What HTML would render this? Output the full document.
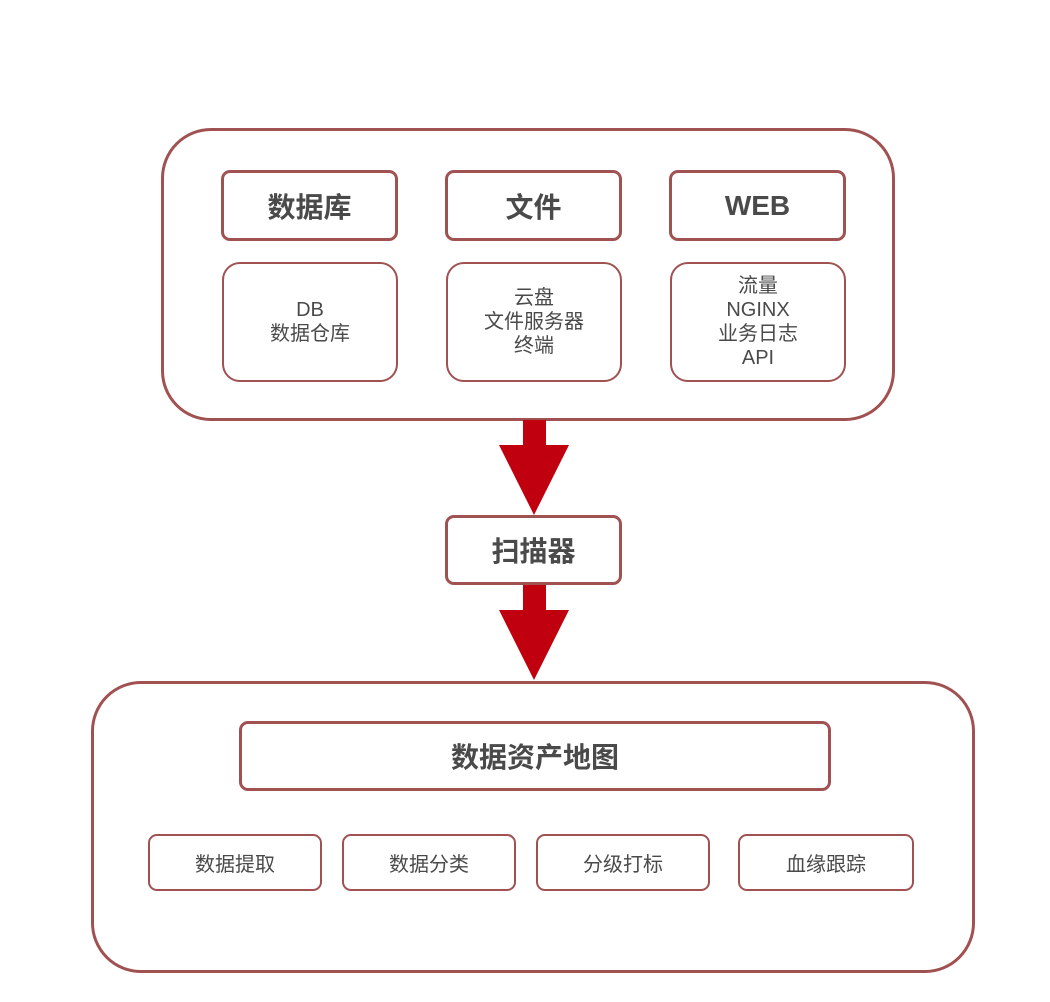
<!DOCTYPE html>
<html><head><meta charset="utf-8"><style>
body{margin:0;width:1050px;height:1002px;background:#fff;position:relative;font-family:"Liberation Sans","Noto Sans CJK SC",sans-serif;color:#4a4a4a;overflow:hidden}
.b{position:absolute;box-sizing:border-box;border:3px solid #a05252;display:flex;align-items:center;justify-content:center;text-align:center}
.big{border-radius:50px}
.h{border-radius:9px;font-weight:bold;font-size:28px}
.s{border:2px solid #a05252;border-radius:18px;font-size:20px;line-height:24px}
.t{border:2px solid #a05252;border-radius:9px;font-size:20px}
</style></head><body>
<div class="b big" style="left:161px;top:128px;width:734px;height:293px"></div>
<div class="b h" style="left:221px;top:170px;width:177px;height:71px">数据库</div>
<div class="b h" style="left:445px;top:170px;width:177px;height:71px">文件</div>
<div class="b h" style="left:669px;top:170px;width:177px;height:71px">WEB</div>
<div class="b s" style="left:222px;top:262px;width:176px;height:120px">DB<br>数据仓库</div>
<div class="b s" style="left:446px;top:262px;width:176px;height:120px">云盘<br>文件服务器<br>终端</div>
<div class="b s" style="left:670px;top:262px;width:176px;height:120px">流量<br>NGINX<br>业务日志<br>API</div>
<svg style="position:absolute;left:0;top:0" width="1050" height="1002">
<polygon points="523,420 546,420 546,445 569,445 534,515 499,445 523,445" fill="#c0000f"/>
<polygon points="523,584 546,584 546,610 569,610 534,680 499,610 523,610" fill="#c0000f"/>
</svg>
<div class="b h" style="left:445px;top:515px;width:177px;height:70px">扫描器</div>
<div class="b big" style="left:91px;top:681px;width:884px;height:292px"></div>
<div class="b h" style="left:239px;top:721px;width:592px;height:70px">数据资产地图</div>
<div class="b t" style="left:148px;top:834px;width:174px;height:57px">数据提取</div>
<div class="b t" style="left:342px;top:834px;width:174px;height:57px">数据分类</div>
<div class="b t" style="left:536px;top:834px;width:174px;height:57px">分级打标</div>
<div class="b t" style="left:738px;top:834px;width:176px;height:57px">血缘跟踪</div>
</body></html>
